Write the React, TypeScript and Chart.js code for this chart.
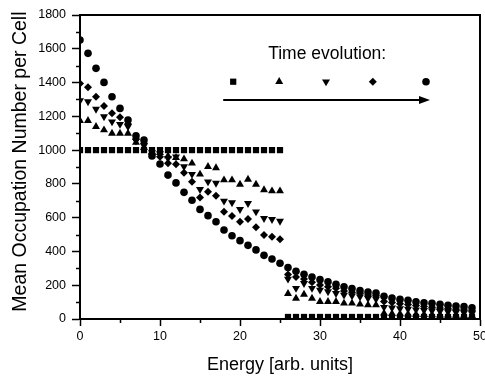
import React, { useEffect, useRef } from "react";
import { Chart, registerables } from "chart.js";
import { drawPoint } from "chart.js/helpers";

Chart.register(...registerables);

// ---- data ----
const energy = [
  0, 1, 2, 3, 4, 5, 6, 7, 8, 9, 10, 11, 12, 13, 14, 15, 16, 17, 18, 19, 20, 21, 22, 23, 24,
  25, 26, 27, 28, 29, 30, 31, 32, 33, 34, 35, 36, 37, 38, 39, 40, 41, 42, 43, 44, 45, 46, 47, 48, 49,
];

const squares = [
  1000, 1000, 1000, 1000, 1000, 1000, 1000, 1000, 1000, 1000, 1000, 1000, 1000, 1000, 1000, 1000, 1000, 1000, 1000, 1000,
  1000, 1000, 1000, 1000, 1000, 1000, 12, 12, 12, 12, 12, 12, 12, 12, 12, 12, 12, 12, 12, 12,
  12, 12, 12, 12, 12, 12, 12, 12, 12, 12,
];

const triangles = [
  1174, 1174, 1139, 1119, 1099, 1099, 1099, 1045, 1015, 990, 985, 965, 955, 947, 922, 857, 902, 895, 823, 823,
  797, 827, 797, 764, 758, 758, 150, 122, 146, 122, 103, 103, 103, 93, 93, 87, 83, 83, 34, 32,
  30, 29, 27, 26, 24, 23, 22, 21, 20, 19,
];

const invTriangles = [
  1293, 1287, 1243, 1198, 1168, 1153, 1139, 1055, 1025, 985, 980, 951, 961, 902, 857, 768, 813, 805, 699, 689,
  649, 685, 635, 596, 590, 580, 237, 182, 211, 182, 172, 162, 152, 142, 138, 132, 122, 118, 70, 66,
  62, 59, 55, 51, 48, 45, 42, 39, 36, 33,
];

const diamonds = [
  1395, 1372, 1316, 1261, 1218, 1194, 1155, 1065, 1040, 975, 961, 922, 916, 866, 813, 720, 754, 730, 635, 610,
  576, 592, 543, 497, 487, 472, 264, 249, 237, 217, 201, 191, 182, 166, 158, 152, 142, 138, 104, 97,
  91, 86, 80, 74, 70, 65, 61, 57, 53, 49,
];

const circles = [
  1652, 1573, 1484, 1401, 1316, 1247, 1178, 1085, 1060, 965, 918, 852, 806, 750, 703, 649, 612, 576, 527, 493,
  464, 436, 409, 377, 355, 330, 305, 282, 265, 248, 233, 220, 205, 191, 180, 168, 160, 154, 134, 124,
  116, 111, 102, 96, 93, 87, 81, 77, 73, 67,
];

const seriesList = [squares, triangles, invTriangles, diamonds, circles];
const seriesStyles = [
  { pointStyle: "rect", radius: 4.4, rotation: 0 },
  { pointStyle: "triangle", radius: 4.6, rotation: 0 },
  { pointStyle: "triangle", radius: 4.6, rotation: 180 },
  { pointStyle: "rectRot", radius: 4.0, rotation: 0 },
  { pointStyle: "circle", radius: 3.8, rotation: 0 },
];

// annotation ("Time evolution:") in data coordinates
const annotationText = "Time evolution:";
const annotationTextPos = [30.9, 1570];
const legendMarkerX = [19.15, 24.9, 30.75, 36.6, 43.25];
const legendMarkerY = 1405;
const arrowFromX = 17.9;
const arrowToX = 43.75;
const arrowY = 1297;

const FONT = '"Liberation Sans", Arial, Helvetica, sans-serif';

const decorPlugin = {
  id: "decor",
  afterDraw(chart: any) {
    const { ctx, chartArea: ca, scales } = chart;
    const x = scales.x;
    const y = scales.y;
    ctx.save();
    ctx.strokeStyle = "#000";
    ctx.fillStyle = "#000";
    // frame top and right
    ctx.lineWidth = 2;
    ctx.beginPath();
    ctx.moveTo(ca.left - 1, ca.top);
    ctx.lineTo(ca.right, ca.top);
    ctx.lineTo(ca.right, ca.bottom + 1);
    ctx.stroke();
    // minor ticks
    ctx.lineWidth = 1.5;
    for (let v = 100; v < 1800; v += 200) {
      const py = Math.round(y.getPixelForValue(v)) + 0.5;
      ctx.beginPath();
      ctx.moveTo(ca.left - 4, py);
      ctx.lineTo(ca.left, py);
      ctx.stroke();
    }
    for (let v = 5; v < 50; v += 10) {
      const px = Math.round(x.getPixelForValue(v)) + 0.5;
      ctx.beginPath();
      ctx.moveTo(px, ca.bottom);
      ctx.lineTo(px, ca.bottom + 4);
      ctx.stroke();
    }
    // annotation text
    ctx.font = "17.5px " + FONT;
    ctx.textAlign = "center";
    ctx.textBaseline = "middle";
    ctx.fillText(annotationText, x.getPixelForValue(annotationTextPos[0]), y.getPixelForValue(annotationTextPos[1]));
    // legend markers
    legendMarkerX.forEach((lx, i) => {
      const st = seriesStyles[i];
      drawPoint(
        ctx,
        { pointStyle: st.pointStyle, rotation: st.rotation, radius: st.radius, borderWidth: 0 } as any,
        x.getPixelForValue(lx),
        y.getPixelForValue(legendMarkerY)
      );
    });
    // arrow
    const ax0 = x.getPixelForValue(arrowFromX);
    const ax1 = x.getPixelForValue(arrowToX);
    const ay = Math.round(y.getPixelForValue(arrowY));
    ctx.lineWidth = 2;
    ctx.beginPath();
    ctx.moveTo(ax0, ay);
    ctx.lineTo(ax1 - 8, ay);
    ctx.stroke();
    ctx.beginPath();
    ctx.moveTo(ax1, ay);
    ctx.lineTo(ax1 - 11, ay - 4);
    ctx.lineTo(ax1 - 11, ay + 4);
    ctx.closePath();
    ctx.fill();
    ctx.restore();
  },
};

export default function App() {
  const canvasRef = useRef<HTMLCanvasElement | null>(null);

  useEffect(() => {
    document.body.style.margin = "0";
    const canvas = canvasRef.current;
    if (!canvas) return;
    const datasets = seriesList.map((values, i) => ({
      label: "s" + i,
      data: energy.map((e, j) => ({ x: e, y: values[j] })),
      showLine: false,
      pointStyle: seriesStyles[i].pointStyle as any,
      pointRadius: seriesStyles[i].radius,
      pointRotation: seriesStyles[i].rotation,
      pointBackgroundColor: "#000",
      pointBorderWidth: 0,
      pointBorderColor: "#000",
      backgroundColor: "#000",
      borderColor: "#000",
      order: seriesList.length - 1 - i,
    }));

    const chart = new Chart(canvas, {
      type: "scatter",
      data: { datasets },
      plugins: [decorPlugin],
      options: {
        animation: false,
        responsive: false,
        devicePixelRatio: 1,
        events: [],
        layout: { padding: { top: 15, right: 5, left: 0, bottom: 0 } },
        plugins: { legend: { display: false }, tooltip: { enabled: false } },
        scales: {
          x: {
            type: "linear",
            min: 0,
            max: 50,
            afterFit: (scale: any) => {
              scale.height = 57;
              scale.paddingLeft = 0;
              scale.paddingRight = 0;
            },
            ticks: {
              stepSize: 10,
              color: "#000",
              padding: 3,
              maxRotation: 0,
              font: { family: FONT, size: 12.5 },
              callback: (v: any) => String(v),
            },
            grid: {
              display: true,
              drawOnChartArea: false,
              drawTicks: true,
              tickLength: 7,
              tickColor: "#000",
              tickWidth: 1.5,
            },
            border: { display: true, color: "#000", width: 2 },
            title: {
              display: true,
              text: "Energy [arb. units]",
              color: "#000",
              font: { family: FONT, size: 18 },
              padding: { top: 0, bottom: 0 },
            },
          },
          y: {
            type: "linear",
            min: 0,
            max: 1800,
            afterFit: (scale: any) => {
              scale.width = 80;
              scale.paddingTop = 0;
              scale.paddingBottom = 0;
            },
            ticks: {
              stepSize: 200,
              color: "#000",
              padding: 6,
              font: { family: FONT, size: 12.5 },
              callback: (v: any) => String(v),
            },
            grid: {
              display: true,
              drawOnChartArea: false,
              drawTicks: true,
              tickLength: 8,
              tickColor: "#000",
              tickWidth: 1.5,
            },
            border: { display: true, color: "#000", width: 2 },
            title: {
              display: true,
              text: "  Mean Occupation Number per Cell",
              color: "#000",
              font: { family: FONT, size: 19.5 },
              padding: { top: 9, bottom: 0 },
            },
          },
        },
      },
    });
    return () => chart.destroy();
  }, []);

  return (
    <div style={{ position: "absolute", left: 0, top: 0, width: 485, height: 376 }}>
      <canvas ref={canvasRef} width={485} height={376} style={{ display: "block" }} />
    </div>
  );
}
